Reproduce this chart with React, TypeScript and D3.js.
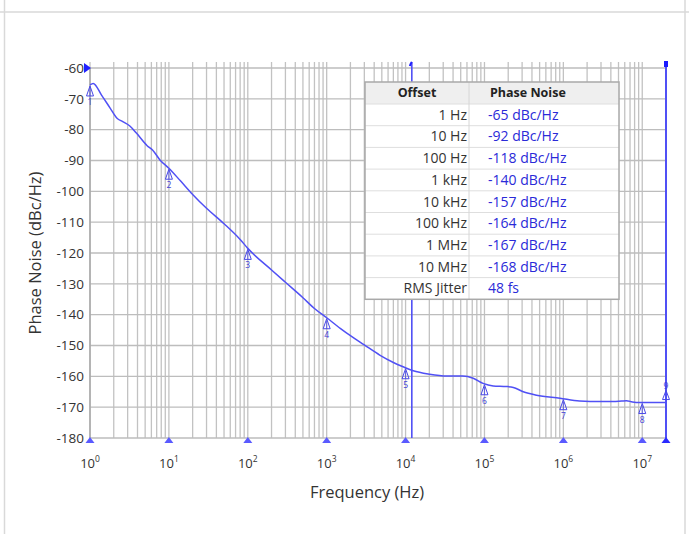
import React from "react";
import * as d3 from "d3";

// ---- data ----
const curvePoints: [number, number][] = [
  [1, -65.5], [1.1, -65], [1.4, -68.8], [1.8, -73], [2.2, -76.3], [2.6, -77.4],
  [3.2, -78.8], [3.9, -81.2], [5.3, -85.2], [6.2, -86.6], [7.7, -89.8],
  [10, -92.5], [14, -96.6], [20, -101], [30, -105.5], [50, -110.5], [80, -115.6],
  [100, -118.5], [200, -125.5], [300, -129.5], [500, -134.5], [700, -138],
  [1000, -141], [1500, -144.5], [2000, -146.8], [3000, -149.8], [4700, -153.1],
  [7000, -155.5], [9300, -156.9], [12500, -158.2], [20000, -159.3], [33000, -159.9],
  [53000, -159.9], [72000, -160.6], [96000, -162.3], [129000, -163.1], [190000, -163.3],
  [232000, -163.6], [310000, -165], [457000, -166.1], [906000, -167.1], [1.6e6, -168],
  [3e6, -168.2], [4.3e6, -168.2], [5.5e6, -168], [6.3e6, -167.9], [7.5e6, -168.3],
  [9.3e6, -168.5], [2e7, -168.5],
];

const markerFreqs = [1, 10, 100, 1e3, 1e4, 1e5, 1e6, 1e7];
const endMarkerFreq = 2e7;
const integrationStart = 12000;
const decadeExponents = [0, 1, 2, 3, 4, 5, 6, 7];
const yTicks = [-60, -70, -80, -90, -100, -110, -120, -130, -140, -150, -160, -170, -180];

const tableOffsets = ["1 Hz", "10 Hz", "100 Hz", "1 kHz", "10 kHz", "100 kHz", "1 MHz", "10 MHz", "RMS Jitter"];
const tableValues = ["-65 dBc/Hz", "-92 dBc/Hz", "-118 dBc/Hz", "-140 dBc/Hz", "-157 dBc/Hz", "-164 dBc/Hz", "-167 dBc/Hz", "-168 dBc/Hz", "48 fs"];

const FONT = "'Open Sans', 'Noto Sans', sans-serif";
const BLUE = "#5050f5";

export default function App() {
  const W = 689, H = 534;
  const x = d3.scaleLog().domain([1, 2e7]).range([90, 666]);
  const y = d3.scaleLinear().domain([-180, -60]).range([438, 68]);
  const top = y(-60), bottom = y(-180), left = x(1), right = x(2e7);

  const gridFreqs: number[] = [];
  for (const e of decadeExponents) {
    for (let k = 1; k <= 9; k++) {
      const f = k * Math.pow(10, e);
      if (f <= 2e7) gridFreqs.push(f);
    }
  }

  const line = d3.line<[number, number]>()
    .x(d => x(d[0]))
    .y(d => y(d[1]))
    .curve(d3.curveMonotoneX);

  const valueAt = (f: number) => {
    const lf = Math.log10(f);
    for (let i = 0; i < curvePoints.length - 1; i++) {
      const a = curvePoints[i], b = curvePoints[i + 1];
      if (f >= a[0] && f <= b[0]) {
        const t = (lf - Math.log10(a[0])) / (Math.log10(b[0]) - Math.log10(a[0]));
        return a[1] + t * (b[1] - a[1]);
      }
    }
    return curvePoints[curvePoints.length - 1][1];
  };

  // table geometry
  const tx0 = 365, tx1 = 619, tcol = 469, ty0 = 82, headH = 22, rowH = 21.7;
  const ty1 = ty0 + headH + rowH * tableOffsets.length;

  return (
    <svg width={W} height={H} style={{ position: "absolute", left: 0, top: 0, background: "#fff" }}>
      {/* page frame */}
      <line x1={0} x2={W} y1={12} y2={12} stroke="#d9d9d9" strokeWidth={1.5} />
      <line x1={4.5} x2={4.5} y1={0} y2={H} stroke="#d9d9d9" strokeWidth={1.5} />
      <line x1={685} x2={685} y1={0} y2={H} stroke="#d9d9d9" strokeWidth={1.5} />

      {/* grid */}
      {gridFreqs.map((f, i) => (
        <line key={"vg" + i} x1={x(f)} x2={x(f)} y1={top - 6} y2={bottom} stroke="#c2c2c2" strokeWidth={1.3} />
      ))}
      {yTicks.map((t, i) => (
        <line key={"hg" + i} x1={left} x2={right} y1={y(t)} y2={y(t)} stroke="#bdbdbd" strokeWidth={1.4} />
      ))}
      <line x1={left} x2={left} y1={top} y2={bottom} stroke="#a8a8a8" strokeWidth={1.5} />

      {/* y tick labels */}
      {yTicks.map((t, i) => (
        <text key={"yl" + i} x={84} y={y(t)} dy="0.35em" textAnchor="end" fontFamily={FONT} fontSize={13.5} fill="#333">{t}</text>
      ))}

      {/* x tick labels */}
      {decadeExponents.map(e => (
        <text key={"xl" + e} x={x(Math.pow(10, e))} y={468} textAnchor="middle" fontFamily={FONT} fontSize={13} fill="#333">
          10<tspan fontSize={8.5} dy={-6}>{e}</tspan>
        </text>
      ))}

      {/* axis titles */}
      <text x={367} y={498} textAnchor="middle" fontFamily={FONT} fontSize={16.5} fill="#333">Frequency (Hz)</text>
      <text transform={`translate(41,${(top + bottom) / 2}) rotate(-90)`} textAnchor="middle" fontFamily={FONT} fontSize={16.5} fill="#333">Phase Noise (dBc/Hz)</text>

      {/* integration lines */}
      <line x1={x(integrationStart)} x2={x(integrationStart)} y1={62} y2={bottom} stroke={BLUE} strokeWidth={1.6} />
      <path d={`M${x(integrationStart)},62 q-1,1 -2,4`} stroke="#2020ff" strokeWidth={2} fill="none" />
      <line x1={x(endMarkerFreq)} x2={x(endMarkerFreq)} y1={62} y2={bottom} stroke={BLUE} strokeWidth={2} />
      <rect x={x(endMarkerFreq) - 2} y={61} width={4} height={6} fill="#1a1aff" />

      {/* curve */}
      <path d={line(curvePoints) || ""} fill="none" stroke={BLUE} strokeWidth={1.5} />

      {/* top-left y marker */}
      <path d={`M${left - 6},${top - 5} L${left + 1},${top} L${left - 6},${top + 5} Z`} fill="#2020ff" />

      {/* bottom decade markers */}
      {markerFreqs.map((f, i) => (
        <path key={"bm" + i} d={`M${x(f)},${bottom - 1} l4.5,6 l-9,0 Z`} fill="#5a5aff" />
      ))}
      <path d={`M${x(endMarkerFreq)},${bottom - 1} l4.5,6 l-9,0 Z`} fill="#2a2aff" />

      {/* curve markers */}
      {markerFreqs.map((f, i) => {
        const cx = x(f), cy = y(valueAt(f));
        return (
          <g key={"cm" + i}>
            <path d={`M${cx},${cy + 1} l3.5,10 l-7,0 Z`} fill="none" stroke="#4848e8" strokeWidth={1} />
            <line x1={cx} x2={cx} y1={cy + 3} y2={cy + 11} stroke="#4848e8" strokeWidth={0.8} />
            <text x={cx} y={cy + 20} textAnchor="middle" fontFamily={FONT} fontSize={8.5} fill="#4040d8">{i + 1}</text>
          </g>
        );
      })}
      {(() => {
        const cx = x(endMarkerFreq), cy = y(valueAt(endMarkerFreq));
        return (
          <g>
            <text x={cx} y={cy - 14} textAnchor="middle" fontFamily={FONT} fontSize={8.5} fill="#4040d8">9</text>
            <path d={`M${cx},${cy - 12} l3.5,9 l-7,0 Z`} fill="none" stroke="#4848e8" strokeWidth={1} />
          </g>
        );
      })()}

      {/* table */}
      <rect x={tx0} y={ty0} width={tx1 - tx0} height={ty1 - ty0} fill="#fff" />
      <rect x={tx0} y={ty0} width={tx1 - tx0} height={headH} fill="#efefef" />
      {tableOffsets.map((_, i) => (
        <line key={"tr" + i} x1={tx0} x2={tx1} y1={ty0 + headH + rowH * i} y2={ty0 + headH + rowH * i} stroke="#dedede" strokeWidth={1} />
      ))}
      <line x1={tcol} x2={tcol} y1={ty0} y2={ty1} stroke="#d6d6d6" strokeWidth={1} />
      <rect x={tx0} y={ty0} width={tx1 - tx0} height={ty1 - ty0} fill="none" stroke="#a9a9a9" strokeWidth={1.5} />
      <text x={(tx0 + tcol) / 2} y={ty0 + headH / 2} dy="0.35em" textAnchor="middle" fontFamily={FONT} fontSize={12.5} fontWeight="bold" fill="#222">Offset</text>
      <text x={490} y={ty0 + headH / 2} dy="0.35em" textAnchor="start" fontFamily={FONT} fontSize={12.5} fontWeight="bold" fill="#222">Phase Noise</text>
      {tableOffsets.map((o, i) => (
        <text key={"to" + i} x={467} y={ty0 + headH + rowH * (i + 0.5)} dy="0.35em" textAnchor="end" fontFamily={FONT} fontSize={14} fill="#333">{o}</text>
      ))}
      {tableValues.map((v, i) => (
        <text key={"tv" + i} x={488} y={ty0 + headH + rowH * (i + 0.5)} dy="0.35em" textAnchor="start" fontFamily={FONT} fontSize={14} fill="#2a2ad8">{v}</text>
      ))}
    </svg>
  );
}
